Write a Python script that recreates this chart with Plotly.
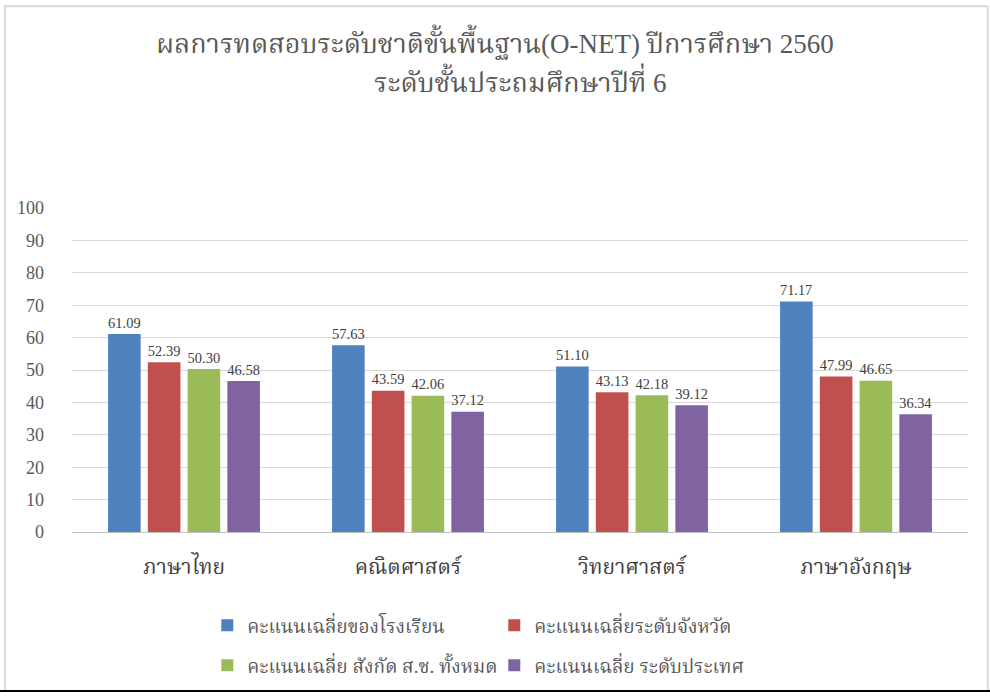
import plotly.graph_objects as go

subjects = ['ภาษาไทย', 'คณิตศาสตร์', 'วิทยาศาสตร์', 'ภาษาอังกฤษ']

school = [61.09, 57.63, 51.10, 71.17]
province = [52.39, 43.59, 43.13, 47.99]
area = [50.30, 42.06, 42.18, 46.65]
nation = [46.58, 37.12, 39.12, 36.34]

series_names = [
    'คะแนนเฉลี่ยของโรงเรียน',
    'คะแนนเฉลี่ยระดับจังหวัด',
    'คะแนนเฉลี่ย สังกัด ส.ช. ทั้งหมด',
    'คะแนนเฉลี่ย ระดับประเทศ',
]
series_values = [school, province, area, nation]
colors = ['#4F81BD', '#C0504D', '#9BBB59', '#8064A2']
legends = ['legend', 'legend', 'legend2', 'legend2']

title_line1 = 'ผลการทดสอบระดับชาติขั้นพื้นฐาน(O-NET) ปีการศึกษา 2560'
title_line2 = 'ระดับชั้นประถมศึกษาปีที่ 6'

font_family = 'Liberation Serif, Noto Serif Thai, Noto Sans Thai, serif'

fig = go.Figure()

for name, vals, color, leg in zip(series_names, series_values, colors, legends):
    fig.add_trace(go.Bar(
        x=subjects,
        y=vals,
        name=name,
        marker=dict(color=color, line=dict(width=0)),
        text=[f'{v:.2f}' for v in vals],
        textposition='outside',
        textfont=dict(size=17, color='#404040'),
        cliponaxis=False,
        legend=leg,
    ))

legend_style = dict(
    orientation='h',
    x=0.151, xanchor='left',
    yanchor='top',
    entrywidth=242,
    font=dict(size=19, color='#595959'),
    bgcolor='rgba(0,0,0,0)',
)

fig.update_layout(
    width=990,
    height=696,
    margin=dict(l=72, r=22, t=208, b=162),
    paper_bgcolor='white',
    plot_bgcolor='white',
    font=dict(family=font_family, color='#595959'),
    title=dict(
        text=title_line1,
        x=0.5,
        xanchor='center',
        y=0.938,
        yanchor='middle',
        font=dict(size=27, color='#595959'),
    ),
    barmode='group',
    bargap=0.29,
    bargroupgap=0.18,
    legend=dict(legend_style, y=-0.23),
    legend2=dict(legend_style, y=-0.353),
    shapes=[
        dict(type='rect', xref='paper', yref='paper',
             x0=-0.0748, x1=1.022, y0=-0.491, y1=1.623,
             line=dict(color='#d9d9d9', width=2)),
        dict(type='line', xref='paper', yref='paper',
             x0=-0.09, x1=1.04, y0=-0.491, y1=-0.491,
             line=dict(color='black', width=2)),
    ],
    annotations=[
        dict(text=title_line2, xref='paper', yref='paper',
             x=0.5, y=1.394, xanchor='center', yanchor='middle',
             showarrow=False, font=dict(size=27, color='#595959')),
    ],
)

fig.update_xaxes(
    tickfont=dict(size=21, color='#404040'),
    showline=False,
    ticks='',
    ticklabelstandoff=20,
)

fig.update_yaxes(
    range=[0, 100],
    dtick=10,
    tickfont=dict(size=18, color='#595959'),
    gridcolor='#d9d9d9',
    gridwidth=1,
    zeroline=True,
    zerolinecolor='#bfbfbf',
    zerolinewidth=1,
    ticklabelstandoff=27,
)

# drop the browser's default page margin so the chart sits at the top-left corner
fig.write_html(
    'out.html',
    config={'displayModeBar': False},
    post_script="document.body.style.margin='0';",
)
